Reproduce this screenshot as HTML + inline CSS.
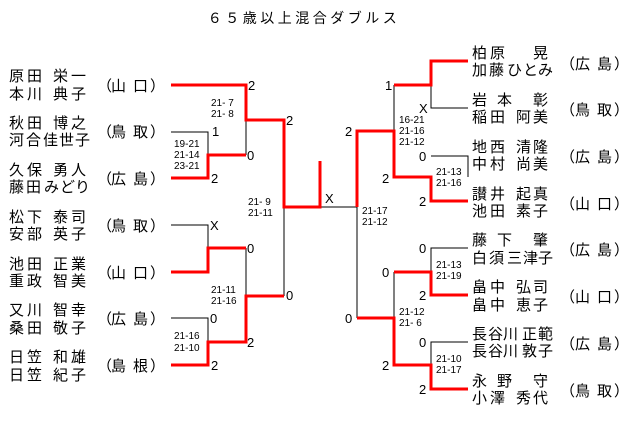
<!DOCTYPE html>
<html><head><meta charset="utf-8"><style>
body{margin:0;background:#fff}
svg{display:block}
text{font-family:"Liberation Sans","Noto Sans CJK JP",sans-serif;fill:#000}
.n{font-size:15px}
.p{font-size:15px}
.s{font-size:10px}
.r{font-size:13px}
</style></head><body>
<svg width="640" height="437" viewBox="0 0 640 437">
<text x="304" y="23" text-anchor="middle" style="font-size:14px;letter-spacing:3.5px">６５歳以上混合ダブルス</text>
<g fill="none" stroke="#000" stroke-width="1">
<path d="M171 132H208V178M171 225H208V248M171 318H208V342M246 120V155M246 248V296M284 207V296M320 207H357V318M431 85V108H468M431 156H468V177M357 131V207M394 85V131M468 248H431V272M394 272V318M468 342H431V365"/>
</g>
<g fill="none" stroke="#f00" stroke-width="3">
<path d="M171 85H246V120H284V207H320V161"/>
<path d="M171 178H208V155H246"/>
<path d="M171 272H208V248H246"/>
<path d="M171 365H208V342H246V296H284"/>
<path d="M468 61H431V85H394"/>
<path d="M357 207V131H394V177H431V201H468"/>
<path d="M394 272H431V295H468"/>
<path d="M357 318H394V365H431V389H468"/>
</g>
<g class="n">
<text x="9 27 53 71" y="81">原田栄一</text><text x="9 27 53 71" y="99">本川典子</text>
<text x="9 27 53 71" y="128">秋田博之</text><text x="9 26 43 59 75" y="145">河合佳世子</text>
<text x="9 27 53 71" y="175">久保勇人</text><text x="9 26 44 60 75" y="192">藤田みどり</text>
<text x="9 27 53 71" y="222">松下泰司</text><text x="9 27 53 71" y="239">安部英子</text>
<text x="9 27 53 71" y="269">池田正業</text><text x="9 27 53 71" y="286">重政智美</text>
<text x="9 27 53 71" y="315">又川智幸</text><text x="9 27 53 71" y="333">桑田敬子</text>
<text x="9 27 53 71" y="362">日笠和雄</text><text x="9 27 53 71" y="380">日笠紀子</text>
<text x="472 490 533" y="58">柏原晃</text><text x="472 489 507 523 538" y="75">加藤ひとみ</text>
<text x="472 497 533" y="105">岩本彰</text><text x="472 490 516 533" y="122">稲田阿美</text>
<text x="472 490 516 533" y="152">地西清隆</text><text x="472 490 516 533" y="169">中村尚美</text>
<text x="472 490 516 533" y="199">讃井起真</text><text x="472 490 516 533" y="216">池田素子</text>
<text x="472 497 533" y="245">藤下肇</text><text x="472 489 507 523 538" y="263">白須三津子</text>
<text x="472 490 516 533" y="292">畠中弘司</text><text x="472 490 516 533" y="310">畠中恵子</text>
<text x="472 488 503 522 538" y="339">長谷川正範</text><text x="472 488 503 522 538" y="356">長谷川敦子</text>
<text x="472 497 533" y="386">永野守</text><text x="472 490 516 533" y="403">小澤秀代</text>
</g>
<g class="p">
<text x="97 111 133 150" y="91">（山口）</text>
<text x="97 111 133 150" y="137">（鳥取）</text>
<text x="97 111 133 150" y="184">（広島）</text>
<text x="97 111 133 150" y="231">（鳥取）</text>
<text x="97 111 133 150" y="278">（山口）</text>
<text x="97 111 133 150" y="324">（広島）</text>
<text x="97 111 133 150" y="371">（島根）</text>
<text x="560 575 597 614" y="69">（広島）</text>
<text x="560 575 597 614" y="115">（鳥取）</text>
<text x="560 575 597 614" y="162">（広島）</text>
<text x="560 575 597 614" y="209">（山口）</text>
<text x="560 575 597 614" y="255">（広島）</text>
<text x="560 575 597 614" y="302">（山口）</text>
<text x="560 575 597 614" y="349">（広島）</text>
<text x="560 575 597 614" y="396">（鳥取）</text>
</g>
<g class="r">
<text x="248" y="90">2</text><text x="286" y="125">2</text><text x="212" y="136">1</text>
<text x="247" y="160">0</text><text x="211" y="183">2</text><text x="210" y="230">X</text>
<text x="247" y="253">0</text><text x="286" y="300">0</text><text x="210" y="323">0</text>
<text x="247" y="347">2</text><text x="211" y="370">2</text><text x="325" y="203">X</text>
<text x="385" y="90">1</text><text x="419" y="113">X</text><text x="345" y="136">2</text>
<text x="419" y="161">0</text><text x="382" y="183">2</text><text x="419" y="206">2</text>
<text x="419" y="253">0</text><text x="382" y="277">0</text><text x="419" y="300">2</text>
<text x="345" y="323">0</text><text x="419" y="347">0</text><text x="382" y="370">2</text>
<text x="419" y="394">2</text>
</g>
<g class="s">
<text x="211" y="106">21- 7</text><text x="211" y="117">21- 8</text>
<text x="174" y="147">19-21</text><text x="174" y="158">21-14</text><text x="174" y="169">23-21</text>
<text x="248" y="205">21- 9</text><text x="248" y="216">21-11</text>
<text x="211" y="293">21-11</text><text x="211" y="304">21-16</text>
<text x="174" y="339">21-16</text><text x="174" y="351">21-10</text>
<text x="399" y="123">16-21</text><text x="399" y="134">21-16</text><text x="399" y="145">21-12</text>
<text x="436" y="175">21-13</text><text x="436" y="186">21-16</text>
<text x="362" y="214">21-17</text><text x="362" y="225">21-12</text>
<text x="436" y="268">21-13</text><text x="436" y="279">21-19</text>
<text x="399" y="315">21-12</text><text x="399" y="326">21- 6</text>
<text x="436" y="362">21-10</text><text x="436" y="373">21-17</text>
</g>
</svg>
</body></html>
